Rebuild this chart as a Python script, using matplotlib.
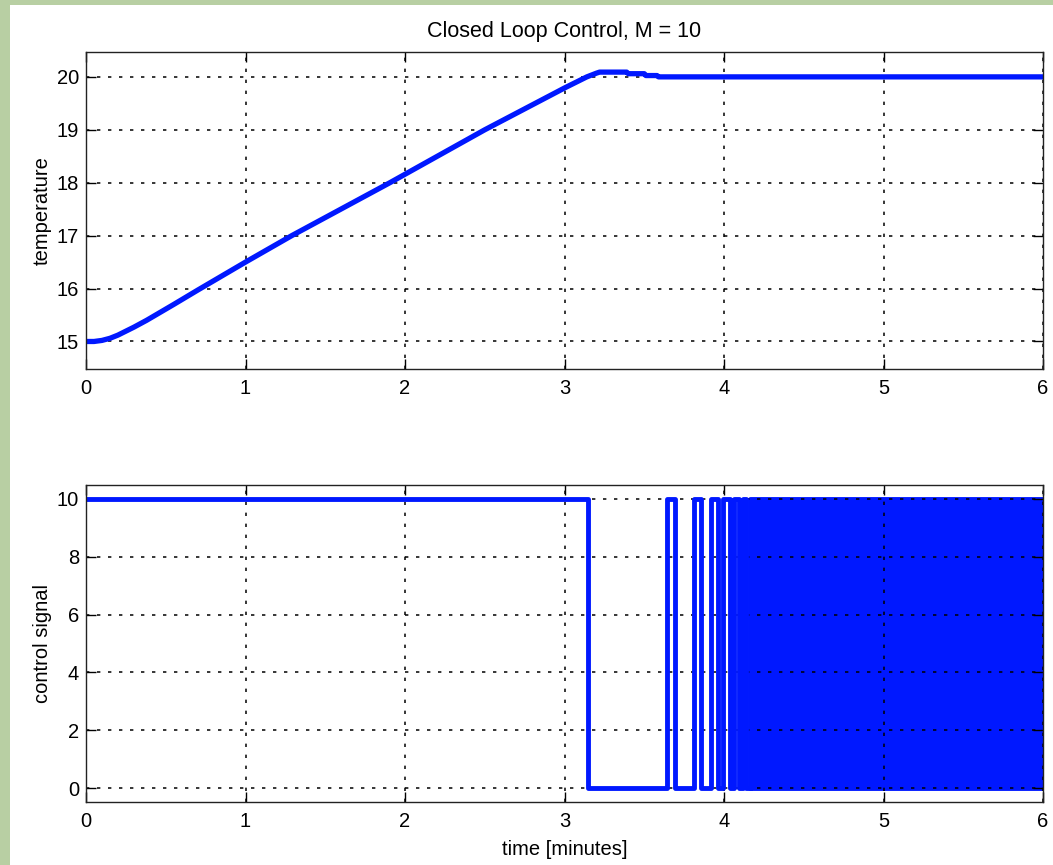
import numpy as np
import matplotlib
matplotlib.use("Agg")
import matplotlib.pyplot as plt

plt.rcParams['font.family'] = ['Liberation Sans', 'DejaVu Sans']

# temperature response
t_temp = [0.0, 0.05, 0.1, 0.15, 0.2, 0.3, 0.38, 0.55, 0.7, 1.0, 1.29, 1.905, 2.5, 3.0, 3.14, 3.2, 3.22,
          3.39, 3.40, 3.50, 3.51, 3.58, 3.59, 6.0]
temp = [15.0, 15.0, 15.02, 15.06, 15.12, 15.27, 15.40, 15.70, 15.97, 16.5, 17.0, 18.0, 19.0, 19.79, 20.0,
        20.07, 20.09, 20.09, 20.06, 20.06, 20.025, 20.025, 20.0, 20.0]

# control signal: switch times
off_times = [3.147, 3.69, 3.855, 3.96, 4.04, 4.095, 4.14]
on_times = [3.64, 3.81, 3.92, 3.995, 4.06, 4.12]
chatter_start = 4.16
chatter_end = 6.0
u_max = 10

title = "Closed Loop Control, M = 10"
blue = '#0018ff'

# build step signal from switch times
tu = [0.0]
u = [u_max]
switches = sorted([(t, 0) for t in off_times] + [(t, u_max) for t in on_times])
for ts, val in switches:
    tu += [ts, ts]
    u += [u[-1], val]
tu.append(chatter_start)
u.append(u[-1])

fig = plt.figure(figsize=(10.53, 8.65), dpi=100)
fig.patch.set_facecolor('#b8cfa3')

# white sheet behind the plots
bg = fig.add_axes([10/1053, 0, 1, 860/865], zorder=-10)
bg.set_facecolor('white')
bg.set_xticks([])
bg.set_yticks([])
for s in bg.spines.values():
    s.set_visible(False)

ax1 = fig.add_axes([86/1053, 1-369/865, 957/1053, 317/865])
ax2 = fig.add_axes([86/1053, 1-802/865, 957/1053, 317/865])

for ax in (ax1, ax2):
    ax.set_xlim(0, 6)
    ax.set_xticks(range(0, 7))
    ax.tick_params(direction='in', top=True, right=True, length=7, width=1,
                   labelsize=14.5, colors='black')
    ax.tick_params(axis='x', pad=7)
    ax.tick_params(axis='y', pad=5)
    ax.grid(True, color='black', linestyle=(0, (2.2, 5)), linewidth=1.1)
    for s in ax.spines.values():
        s.set_linewidth(1)
        s.set_color('#222222')

ax1.plot(t_temp, temp, color=blue, lw=3.8, solid_joinstyle='round')
ax1.set_ylim(14.48, 20.47)
ax1.set_yticks(range(15, 21))
ax1.set_ylabel("temperature", fontsize=14.5)
ax1.yaxis.set_label_coords(-0.036, 0.5)
ax1.set_title(title, fontsize=15.5, pad=11)

ax2.plot(tu, u, color=blue, lw=3.5)
ax2.fill_between([chatter_start, chatter_end], 0, u_max, color=blue, lw=3.5, edgecolor=blue)
ax2.set_ylim(-0.48, 10.48)
ax2.set_yticks(range(0, 11, 2))
ax2.set_ylabel("control signal", fontsize=14.5)
ax2.yaxis.set_label_coords(-0.036, 0.5)
ax2.set_xlabel("time [minutes]", fontsize=14.5, labelpad=7)

fig.savefig("out.png", dpi=100, facecolor=fig.get_facecolor())
